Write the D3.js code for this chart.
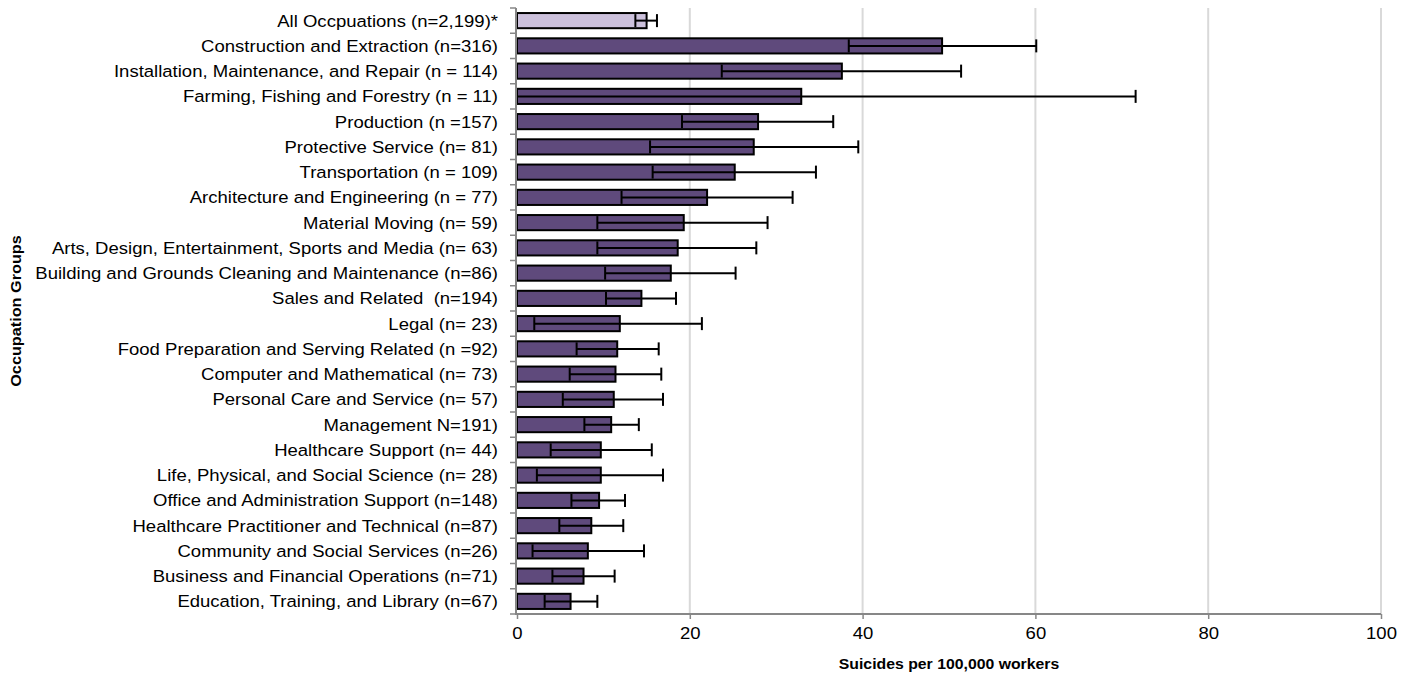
<!DOCTYPE html>
<html>
<head>
<meta charset="utf-8">
<script src="https://cdn.jsdelivr.net/npm/d3@7"></script>
<style>
  html, body { margin: 0; padding: 0; background: #fff; }
  svg { display: block; font-family: "Liberation Sans", Arial, sans-serif; }
</style>
</head>
<body>
<svg id="chart" width="1415" height="674"></svg>
<script>
// Occupation groups, top to bottom
const categories = [
  "All Occpuations (n=2,199)*",
  "Construction and Extraction (n=316)",
  "Installation, Maintenance, and Repair (n = 114)",
  "Farming, Fishing and Forestry (n = 11)",
  "Production (n =157)",
  "Protective Service (n= 81)",
  "Transportation (n = 109)",
  "Architecture and Engineering (n = 77)",
  "Material Moving (n= 59)",
  "Arts, Design, Entertainment, Sports and Media (n= 63)",
  "Building and Grounds Cleaning and Maintenance (n=86)",
  "Sales and Related  (n=194)",
  "Legal (n= 23)",
  "Food Preparation and Serving Related (n =92)",
  "Computer and Mathematical (n= 73)",
  "Personal Care and Service (n= 57)",
  "Management N=191)",
  "Healthcare Support (n= 44)",
  "Life, Physical, and Social Science (n= 28)",
  "Office and Administration Support (n=148)",
  "Healthcare Practitioner and Technical (n=87)",
  "Community and Social Services (n=26)",
  "Business and Financial Operations (n=71)",
  "Education, Training, and Library (n=67)"
];

// Suicide rate per 100,000 workers
const rates = [15.0, 49.2, 37.6, 32.9, 27.9, 27.4, 25.2, 22.0, 19.3, 18.6, 17.8, 14.4,
               11.9, 11.6, 11.4, 11.2, 10.9, 9.7, 9.7, 9.5, 8.6, 8.2, 7.7, 6.2];

// 95% confidence interval bounds
const lower = [13.7, 38.4, 23.7, -5.8, 19.1, 15.4, 15.7, 12.1, 9.3, 9.3, 10.2, 10.3,
               2.0, 6.9, 6.1, 5.3, 7.8, 3.9, 2.3, 6.3, 4.9, 1.8, 4.1, 3.2];
const upper = [16.2, 60.1, 51.4, 71.6, 36.6, 39.5, 34.6, 31.9, 29.0, 27.7, 25.3, 18.4,
               21.4, 16.4, 16.7, 16.9, 14.1, 15.6, 16.9, 12.5, 12.3, 14.7, 11.3, 9.3];

const xTicks = [0, 20, 40, 60, 80, 100];
const xTitle = "Suicides per 100,000 workers";
const yTitle = "Occupation Groups";

const rows = categories.map((c, i) => ({ name: c, rate: rates[i], lo: lower[i], hi: upper[i], total: i === 0 }));

const svg = d3.select("#chart");
const plotLeft = 517, plotRight = 1381, plotTop = 8, plotBottom = 614;

const x = d3.scaleLinear().domain([0, 100]).range([plotLeft, plotRight]);
const y = d3.scaleBand().domain(categories).range([plotTop, plotBottom]).paddingInner(0.4).paddingOuter(0.2);

const axisGray = "#878787";

// vertical gridlines
svg.append("g").selectAll("line").data(xTicks.filter(t => t > 0)).join("line")
  .attr("x1", d => x(d)).attr("x2", d => x(d))
  .attr("y1", plotTop).attr("y2", plotBottom)
  .attr("stroke", "#d9d9d9").attr("stroke-width", 2);

// bars
svg.append("g").selectAll("rect").data(rows).join("rect")
  .attr("x", x(0))
  .attr("y", d => y(d.name))
  .attr("width", d => x(d.rate) - x(0))
  .attr("height", y.bandwidth())
  .attr("fill", d => d.total ? "#ccc1dc" : "#5f4a7c")
  .attr("stroke", "#000").attr("stroke-width", 2);

// error bars (lower bound clipped at zero, no cap there)
const capH = 13;
const eb = svg.append("g").attr("stroke", "#000").attr("stroke-width", 2);
rows.forEach(d => {
  const cy = y(d.name) + y.bandwidth() / 2;
  const x0 = x(Math.max(0, d.lo));
  eb.append("line").attr("x1", x0).attr("x2", x(d.hi)).attr("y1", cy).attr("y2", cy);
  if (d.lo >= 0) {
    eb.append("line").attr("x1", x(d.lo)).attr("x2", x(d.lo)).attr("y1", cy - capH / 2).attr("y2", cy + capH / 2);
  }
  eb.append("line").attr("x1", x(d.hi)).attr("x2", x(d.hi)).attr("y1", cy - capH / 2).attr("y2", cy + capH / 2);
});

// x axis
const xAxis = svg.append("g").attr("transform", `translate(0,${plotBottom})`)
  .call(d3.axisBottom(x).tickValues(xTicks).tickSize(5).tickPadding(8).tickFormat(d3.format("d")));
xAxis.select(".domain").attr("stroke", axisGray).attr("stroke-width", 2).attr("d", `M${plotLeft - 2},0H${plotRight}`);
xAxis.selectAll(".tick line").attr("stroke", axisGray).attr("stroke-width", 1.5);
xAxis.selectAll(".tick text")
  .attr("font-size", 17).attr("fill", "#000")
  .attr("font-family", "Liberation Sans, Arial, sans-serif")
  .attr("transform", "scale(1.09,1)");

// y axis line and tick marks at band boundaries
const bounds = categories.map(c => y(c) - y.step() * y.paddingInner() / 2).concat([plotBottom]);
svg.append("line").attr("x1", plotLeft - 1).attr("x2", plotLeft - 1).attr("y1", plotTop).attr("y2", plotBottom + 1)
  .attr("stroke", axisGray).attr("stroke-width", 2);
svg.append("g").selectAll("line").data(bounds).join("line")
  .attr("x1", plotLeft - 7).attr("x2", plotLeft - 1)
  .attr("y1", d => d).attr("y2", d => d)
  .attr("stroke", axisGray).attr("stroke-width", 1.5);

// category labels
svg.append("g").selectAll("text").data(rows).join("text")
  .attr("transform", d => `translate(498,${y(d.name) + y.bandwidth() / 2 + 6}) scale(1.09,1)`)
  .attr("text-anchor", "end")
  .attr("font-size", 17)
  .attr("fill", "#000")
  .style("white-space", "pre")
  .text(d => d.name);

// axis titles
svg.append("text")
  .attr("transform", `translate(${(plotLeft + plotRight) / 2},669) scale(1.13,1)`)
  .attr("text-anchor", "middle").attr("font-size", 14).attr("font-weight", "bold")
  .text(xTitle);

svg.append("text")
  .attr("transform", `translate(21,${(plotTop + plotBottom) / 2}) rotate(-90) scale(1.16,1)`)
  .attr("text-anchor", "middle").attr("font-size", 14).attr("font-weight", "bold")
  .text(yTitle);
</script>
</body>
</html>
